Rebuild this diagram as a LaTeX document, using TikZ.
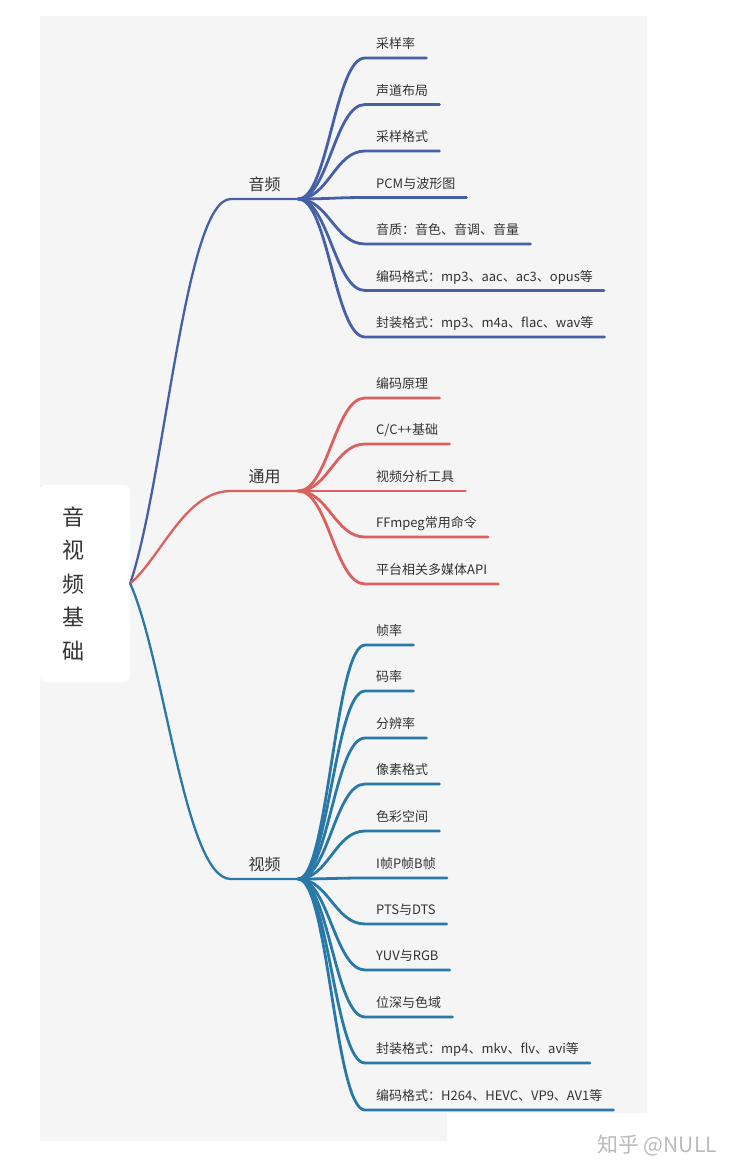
\documentclass[tikz,border=0pt]{standalone}
\usepackage{fontspec}
\setmainfont{Noto Sans CJK SC}
\definecolor{paper}{HTML}{F5F5F5}
\definecolor{ink}{HTML}{333333}
\definecolor{audioblue}{HTML}{4660A8}
\definecolor{commonred}{HTML}{DC605E}
\definecolor{videoteal}{HTML}{2878A8}
\definecolor{markgray}{HTML}{BBBBBB}
\tikzset{
  rootbox/.style={fill=white, rounded corners=6pt, text width=46pt,
    minimum height=197pt, inner xsep=22pt, inner ysep=0pt, text=ink, align=left,
    font=\fontsize{22}{33.5}\selectfont},
  branchlabel/.style={anchor=south, minimum width=67pt, inner xsep=0pt,
    inner ysep=8pt, text depth=0pt, text=ink, font=\fontsize{16}{16}\selectfont},
  leaflabel/.style={anchor=south west, inner xsep=11pt, inner ysep=9pt,
    text depth=0pt, text=ink, font=\fontsize{13}{13}\selectfont},
  mainline/.style={line width=2.3pt, line cap=round},
  subline/.style={line width=2.8pt, line cap=round}
}
\begin{document}
\begin{tikzpicture}[x=1pt,y=-1pt]
  \useasboundingbox (0,0) rectangle (735,1176);
  \fill[white] (0,0) rectangle (735,1176);
  \fill[paper] (40,16) -- (647,16) -- (647,1113) -- (447,1113)
    -- (447,1141) -- (40,1141) -- cycle;
  \node[rootbox] (root) at (85,583.5) {音\\视\\频\\基\\础};
  % branches
  \node[branchlabel] (audio) at (264.5,199) {音频};
  \node[branchlabel] (common) at (264.5,491) {通用};
  \node[branchlabel] (video) at (264.5,879) {视频};
  % audio leaves
  \node[leaflabel] (a1) at (365,58) {采样率};
  \node[leaflabel] (a2) at (365,104.5) {声道布局};
  \node[leaflabel] (a3) at (365,151) {采样格式};
  \node[leaflabel] (a4) at (365,197.5) {PCM与波形图};
  \node[leaflabel] (a5) at (365,244) {音质：音色、音调、音量};
  \node[leaflabel] (a6) at (365,290.5) {编码格式：mp3、aac、ac3、opus等};
  \node[leaflabel] (a7) at (365,337) {封装格式：mp3、m4a、flac、wav等};
  % common leaves
  \node[leaflabel] (c1) at (365,398) {编码原理};
  \node[leaflabel] (c2) at (365,444) {C/C++基础};
  \node[leaflabel] (c3) at (365,491) {视频分析工具};
  \node[leaflabel] (c4) at (365,537) {FFmpeg常用命令};
  \node[leaflabel] (c5) at (365,584) {平台相关多媒体API};
  % video leaves
  \node[leaflabel] (v1) at (365,645) {帧率};
  \node[leaflabel] (v2) at (365,691) {码率};
  \node[leaflabel] (v3) at (365,738) {分辨率};
  \node[leaflabel] (v4) at (365,784) {像素格式};
  \node[leaflabel] (v5) at (365,831) {色彩空间};
  \node[leaflabel] (v6) at (365,878) {I帧P帧B帧};
  \node[leaflabel] (v7) at (365,924) {PTS与DTS};
  \node[leaflabel] (v8) at (365,970) {YUV与RGB};
  \node[leaflabel] (v9) at (365,1017) {位深与色域};
  \node[leaflabel] (v10) at (365,1063) {封装格式：mp4、mkv、flv、avi等};
  \node[leaflabel] (v11) at (365,1110) {编码格式：H264、HEVC、VP9、AV1等};
  \node[text=markgray, font=\fontsize{21}{21}\selectfont] (mark) at (657,1145) {知乎 @NULL};
  \begin{scope}[draw=audioblue]
    \draw[mainline] (root.east) .. controls (165,480) and (185,199) .. (audio.south west) -- (audio.south east);
    \draw[subline] (audio.south east) .. controls +(30,0) and +(-30,0) .. (a1.south west) -- (a1.south east);
    \draw[subline] (audio.south east) .. controls +(30,0) and +(-30,0) .. (a2.south west) -- (a2.south east);
    \draw[subline] (audio.south east) .. controls +(30,0) and +(-30,0) .. (a3.south west) -- (a3.south east);
    \draw[subline] (audio.south east) .. controls +(30,0) and +(-30,0) .. (a4.south west) -- (a4.south east);
    \draw[subline] (audio.south east) .. controls +(30,0) and +(-30,0) .. (a5.south west) -- (a5.south east);
    \draw[subline] (audio.south east) .. controls +(30,0) and +(-30,0) .. (a6.south west) -- (a6.south east);
    \draw[subline] (audio.south east) .. controls +(30,0) and +(-30,0) .. (a7.south west) -- (a7.south east);
  \end{scope}
  \begin{scope}[draw=commonred]
    \draw[mainline] (root.east) .. controls (162,556) and (185,491) .. (common.south west) -- (common.south east);
    \draw[subline] (common.south east) .. controls +(30,0) and +(-30,0) .. (c1.south west) -- (c1.south east);
    \draw[subline] (common.south east) .. controls +(30,0) and +(-30,0) .. (c2.south west) -- (c2.south east);
    \draw[subline] (common.south east) .. controls +(30,0) and +(-30,0) .. (c3.south west) -- (c3.south east);
    \draw[subline] (common.south east) .. controls +(30,0) and +(-30,0) .. (c4.south west) -- (c4.south east);
    \draw[subline] (common.south east) .. controls +(30,0) and +(-30,0) .. (c5.south west) -- (c5.south east);
  \end{scope}
  \begin{scope}[draw=videoteal]
    \draw[mainline] (root.east) .. controls (165,662) and (185,879) .. (video.south west) -- (video.south east);
    \draw[subline] (video.south east) .. controls +(30,0) and +(-30,0) .. (v1.south west) -- (v1.south east);
    \draw[subline] (video.south east) .. controls +(30,0) and +(-30,0) .. (v2.south west) -- (v2.south east);
    \draw[subline] (video.south east) .. controls +(30,0) and +(-30,0) .. (v3.south west) -- (v3.south east);
    \draw[subline] (video.south east) .. controls +(30,0) and +(-30,0) .. (v4.south west) -- (v4.south east);
    \draw[subline] (video.south east) .. controls +(30,0) and +(-30,0) .. (v5.south west) -- (v5.south east);
    \draw[subline] (video.south east) .. controls +(30,0) and +(-30,0) .. (v6.south west) -- (v6.south east);
    \draw[subline] (video.south east) .. controls +(30,0) and +(-30,0) .. (v7.south west) -- (v7.south east);
    \draw[subline] (video.south east) .. controls +(30,0) and +(-30,0) .. (v8.south west) -- (v8.south east);
    \draw[subline] (video.south east) .. controls +(30,0) and +(-30,0) .. (v9.south west) -- (v9.south east);
    \draw[subline] (video.south east) .. controls +(30,0) and +(-30,0) .. (v10.south west) -- (v10.south east);
    \draw[subline] (video.south east) .. controls +(30,0) and +(-30,0) .. (v11.south west) -- (v11.south east);
  \end{scope}
\end{tikzpicture}
\end{document}
